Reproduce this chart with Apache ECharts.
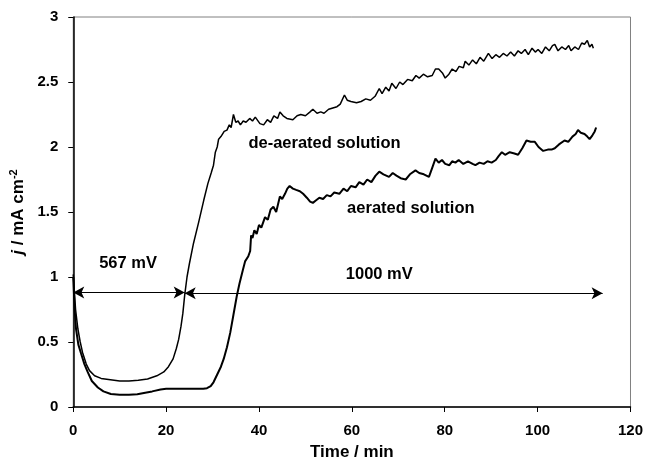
<!DOCTYPE html>
<html>
<head>
<meta charset="utf-8">
<script src="https://cdn.jsdelivr.net/npm/echarts@6/dist/echarts.min.js"></script>
<style>html,body{margin:0;padding:0;background:#fff;}#c{width:646px;height:467px;}</style>
</head>
<body>
<div id="c"></div>
<script>
// Time (min) and current density j (mA cm^-2)
const deaeratedT = [0,0.5,1,1.5,2,2.8,3.5,4.6,6,8,10,12,14,16,18,19.5,20.5,21.5,22.2,22.7,23.2,23.6,24,24.5,25,25.9,27,28.1,29,29.7,30.2,30.6,31,31.3,31.8,32.5,33.1,33.6,34,34.5,35,35.5,36,36.6,37.2,38,38.6,39.2,40.2,41,41.8,42.5,43.2,44,44.5,45.2,46,47.3,48.2,49,50,51,51.6,52.5,53.3,54,55,55.9,56.8,57.5,58.4,59,59.8,61,62,63,64,65,65.9,66.5,67.3,68,68.6,69.5,70.3,71,72,73,73.8,74.5,75.4,76.3,77.3,78,78.7,79.5,80.1,80.9,81.6,82.4,83.1,84,84.4,85.2,86,86.8,87.6,88.4,89.4,90.2,91,91.8,92.6,93.4,94.2,95,95.8,96.5,97.3,98,98.8,99.5,100.1,100.9,101.7,102.5,103.2,103.7,104.4,105.2,106,106.7,107.2,108,108.8,109.5,110.1,110.7,111.2,111.7,112];
const deaeratedJ = [1.02,0.75,0.6,0.5,0.42,0.33,0.28,0.24,0.22,0.21,0.2,0.2,0.205,0.215,0.24,0.27,0.31,0.37,0.45,0.52,0.62,0.72,0.86,1.0,1.1,1.26,1.42,1.59,1.72,1.8,1.86,1.96,2.0,2.06,2.08,2.12,2.13,2.17,2.15,2.25,2.19,2.2,2.17,2.2,2.19,2.22,2.2,2.23,2.18,2.17,2.21,2.19,2.24,2.22,2.27,2.24,2.22,2.21,2.24,2.25,2.24,2.27,2.29,2.26,2.27,2.26,2.29,2.3,2.31,2.33,2.4,2.36,2.35,2.34,2.35,2.37,2.36,2.39,2.45,2.41,2.46,2.43,2.49,2.45,2.5,2.48,2.52,2.51,2.55,2.53,2.56,2.54,2.55,2.6,2.6,2.57,2.53,2.56,2.6,2.58,2.62,2.61,2.66,2.63,2.67,2.64,2.69,2.66,2.72,2.68,2.71,2.69,2.72,2.7,2.73,2.7,2.74,2.72,2.75,2.71,2.76,2.73,2.75,2.72,2.77,2.74,2.78,2.79,2.74,2.77,2.75,2.78,2.74,2.77,2.75,2.8,2.79,2.82,2.77,2.79,2.76];
const aeratedT = [0,0.3,0.6,1.1,1.7,2.4,3.1,4,5.3,6.5,8.1,10,12,13.8,15.5,17,18.8,20,22,24,26,28,28.8,29.6,30.2,31,31.8,32.4,33.1,33.8,34.5,35.2,35.8,36.5,37,37.7,38.1,38.3,38.6,39,39.5,40,40.5,41.3,41.9,42.5,43.1,43.7,44.5,45,45.6,46.1,46.6,47.3,48,48.8,49.5,50.3,51,51.6,52.3,53,53.8,54.6,55.4,56.2,57.3,58.2,59,59.8,60.8,61.6,62.5,63.3,64.2,65.1,65.9,66.8,68,68.8,69.6,70.5,71.6,72.5,73.7,74.5,75.5,76.6,77.3,78,78.7,79.4,80.1,81,81.6,82.3,83,84,85,86,86.6,87.5,88.4,89.2,90.1,91,91.6,92.3,93,94,95,95.8,96.7,97.6,98.5,99.4,100.2,101.2,102.2,103,103.7,104.6,105.8,106.6,107.5,108.2,108.7,109.3,110.1,110.7,111.2,111.8,112.3,112.6];
const aeratedJ = [1.0,0.75,0.6,0.48,0.41,0.33,0.27,0.2,0.15,0.12,0.1,0.095,0.095,0.098,0.11,0.12,0.135,0.14,0.14,0.14,0.14,0.14,0.145,0.16,0.19,0.25,0.31,0.37,0.46,0.57,0.71,0.85,0.95,1.05,1.12,1.16,1.2,1.32,1.3,1.36,1.33,1.4,1.38,1.46,1.44,1.52,1.54,1.5,1.62,1.6,1.64,1.68,1.7,1.68,1.67,1.66,1.64,1.61,1.58,1.57,1.59,1.61,1.6,1.63,1.62,1.65,1.64,1.68,1.66,1.7,1.69,1.73,1.71,1.75,1.73,1.78,1.81,1.79,1.77,1.8,1.78,1.76,1.75,1.79,1.82,1.8,1.79,1.77,1.84,1.91,1.88,1.9,1.87,1.86,1.89,1.88,1.9,1.87,1.89,1.87,1.86,1.88,1.87,1.89,1.88,1.9,1.93,1.96,1.94,1.96,1.95,1.94,1.99,2.05,2.04,2.04,2.0,1.97,1.98,1.98,1.99,2.02,2.05,2.04,2.08,2.1,2.13,2.11,2.1,2.08,2.06,2.09,2.12,2.15];

// Potential step arrows: [startT, endT, j]
const arrow567 = [0, 24, 0.88];
const arrow1000 = [24, 114, 0.875];

// Annotations: [text, t, j]
const labels = [
  ['567 mV', 11.8, 1.105],
  ['1000 mV', 65.9, 1.02],
  ['de-aerated solution', 54.1, 2.03],
  ['aerated solution', 72.7, 1.53]
];

const xTicks = [0, 20, 40, 60, 80, 100, 120];
const yTicks = [0, 0.5, 1, 1.5, 2, 2.5, 3];

const zip = (a, b) => a.map((v, i) => [v, b[i]]);
const FONT = 'Liberation Sans, Arial, sans-serif';

const chart = echarts.init(document.getElementById('c'), null, {renderer: 'canvas'});
chart.setOption({
  animation: false,
  backgroundColor: '#fff',
  grid: {left: 72, right: 13, top: 17, bottom: 60, show: true, borderColor: '#808080', borderWidth: 1},
  xAxis: {
    type: 'value', min: xTicks[0], max: xTicks[xTicks.length - 1], interval: 20,
    name: 'Time / min', nameLocation: 'middle', nameGap: 37,
    nameTextStyle: {fontFamily: FONT, fontWeight: 'bold', fontSize: 17, color: '#000'},
    axisLine: {show: true, lineStyle: {color: '#000', width: 1.5}},
    axisTick: {show: true, length: 5, lineStyle: {color: '#000'}},
    axisLabel: {fontFamily: FONT, fontWeight: 'bold', fontSize: 15, color: '#000', margin: 16},
    splitLine: {show: false}
  },
  yAxis: {
    type: 'value', min: yTicks[0], max: yTicks[yTicks.length - 1], interval: 0.5,
    name: '{i|j} / mA cm{s|-2}', nameLocation: 'middle', nameGap: 42,
    nameTextStyle: {fontFamily: FONT, fontWeight: 'bold', fontSize: 17, color: '#000',
      rich: {i: {fontFamily: FONT, fontStyle: 'italic', fontWeight: 'bold', fontSize: 17, color: '#000'},
             s: {fontFamily: FONT, fontWeight: 'bold', fontSize: 11, color: '#000', verticalAlign: 'top', padding: [0,0,9,0]}}},
    axisLine: {show: true, lineStyle: {color: '#000', width: 1.5}},
    axisTick: {show: true, length: 5, lineStyle: {color: '#000'}},
    axisLabel: {fontFamily: FONT, fontWeight: 'bold', fontSize: 15, color: '#000', margin: 15},
    splitLine: {show: false}
  },
  series: [
    {
      name: 'de-aerated solution', type: 'line', data: zip(deaeratedT, deaeratedJ),
      showSymbol: false, smooth: false,
      lineStyle: {color: '#000', width: 1.5}
    },
    {
      name: 'aerated solution', type: 'line', data: zip(aeratedT, aeratedJ),
      showSymbol: false, smooth: false,
      lineStyle: {color: '#000', width: 2}
    },
    {
      name: 'arrows', type: 'line', data: [],
      markLine: {
        silent: true, symbol: ['arrow', 'arrow'], symbolSize: [9, 11],
        lineStyle: {color: '#000', width: 1.2, type: 'solid'},
        label: {show: false},
        data: [
          [{coord: [arrow567[0], arrow567[2]]}, {coord: [arrow567[1], arrow567[2]]}],
          [{coord: [arrow1000[0], arrow1000[2]]}, {coord: [arrow1000[1], arrow1000[2]]}]
        ]
      }
    },
    {
      name: 'labels', type: 'scatter', symbolSize: 0, silent: true,
      itemStyle: {color: '#000', opacity: 1},
      data: labels.map(l => ({value: [l[1], l[2]], name: l[0]})),
      label: {show: true, position: 'inside', formatter: p => p.name,
        fontFamily: FONT, fontWeight: 'bold', fontSize: 16.5, color: '#000',
        textBorderWidth: 0, textBorderColor: 'transparent', opacity: 1}
    }
  ]
});
</script>
</body>
</html>
